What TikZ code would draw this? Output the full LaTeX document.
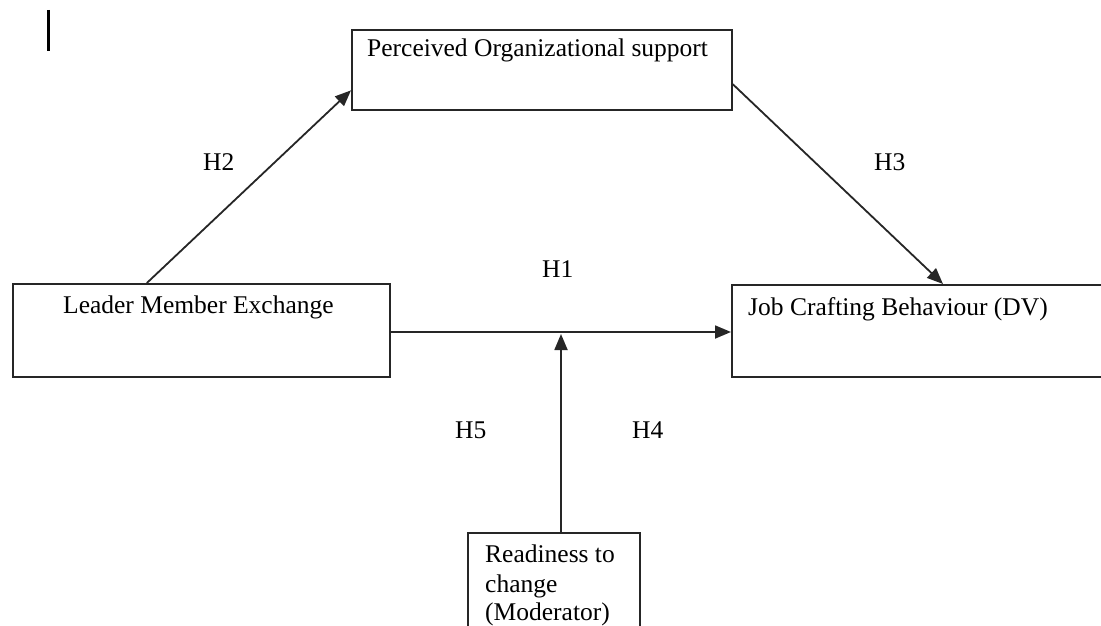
\documentclass[tikz,border=0pt]{standalone}
\usepackage{fontspec}
\setmainfont{Liberation Serif}
\usetikzlibrary{arrows.meta,calc}
\begin{document}
\begin{tikzpicture}[x=1pt,y=-1pt,
  box/.style={draw=black!85, line width=1.8pt, rectangle, inner sep=0pt, anchor=north west},
  txt/.style={inner sep=0pt, font=\fontsize{25.5}{29.5}\selectfont},
  arr/.style={draw=black!85, line width=1.8pt, -{Triangle[length=16pt,width=13pt]}}]
\useasboundingbox (0,0) rectangle (1101,626);
\clip (0,0) rectangle (1101,626);
\fill[white] (0,0) rectangle (1101,626);

% cursor mark
\draw[line width=3pt] (48,10) -- (48,51);

% boxes
\node[box, minimum width=380pt, minimum height=80pt] (pos) at (351,29) {};
\node[box, minimum width=377pt, minimum height=93pt] (lmx) at (12,283) {};
\node[box, minimum width=400pt, minimum height=92pt] (jcb) at (731,284) {};
\node[box, minimum width=172pt, minimum height=110pt] (rtc) at (467,532) {};

% box texts
\node[txt, anchor=base west] (posT) at (367,57) {Perceived Organizational support};
\node[txt, anchor=base west] (lmxT) at (63,313) {Leader Member Exchange};
\node[txt, anchor=base west] (jcbT) at (748,315) {Job Crafting Behaviour (DV)};
\node[txt, anchor=base west] (rtcT1) at (485,562) {Readiness to};
\node[txt, anchor=base west] (rtcT2) at (485,592) {change};
\node[txt, anchor=base west] (rtcT3) at (485,620) {(Moderator)};

% connectors
\coordinate (h1src) at ($(lmx.north east)+(0,49)$);
\coordinate (modsrc) at ($(rtc.north west)+(94,0)$);
\coordinate (jn) at (h1src -| modsrc);
\draw[arr] ($(lmx.north west)!0.356!(lmx.north east)$) -- ($(pos.north west)!0.75!(pos.south west)$);
\draw[arr] ($(pos.north east)!0.675!(pos.south east)$) -- ($(jcb.north west)+(212,0)$);
\draw[arr] (h1src) -- (h1src -| jcb.west);
\draw[arr] (modsrc) -- ([yshift=-2pt]jn);

% hypothesis labels
\node[txt, anchor=base west] (h2) at (203,170) {H2};
\node[txt, anchor=base west] (h3) at (874,170) {H3};
\node[txt, anchor=base west] (h1) at (542,277) {H1};
\node[txt, anchor=base west] (h5) at (455,438) {H5};
\node[txt, anchor=base west] (h4) at (632,438) {H4};
\end{tikzpicture}
\end{document}
